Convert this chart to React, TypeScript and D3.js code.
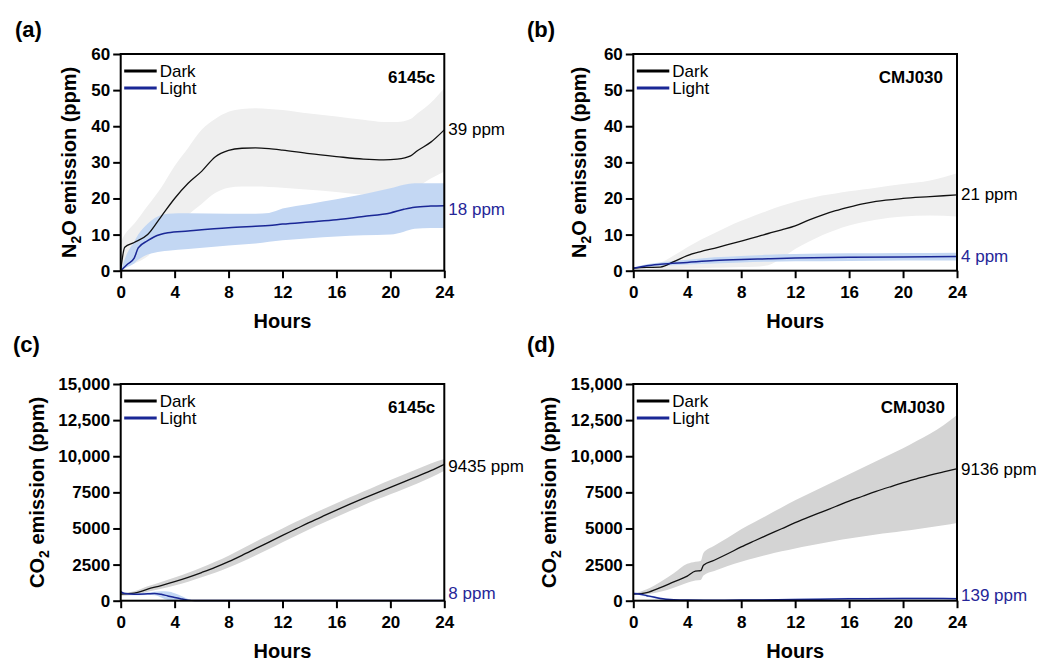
import React, { useEffect, useRef } from 'react'
import * as d3 from 'd3'

// Axis ticks
const hourTicks = [0, 4, 8, 12, 16, 20, 24]
const n2oTicks = [0, 10, 20, 30, 40, 50, 60]
const n2oTickLabels = ['0', '10', '20', '30', '40', '50', '60']
const co2Ticks = [0, 2500, 5000, 7500, 10000, 12500, 15000]
const co2TickLabels = ['0', '2500', '5000', '7500', '10,000', '12,500', '15,000']

// (a) N2O, 6145c
const darkHoursA = [0, 0.3, 1, 2, 3, 4, 5, 6, 7, 8, 9, 10, 11, 12, 14, 16, 18, 19.5, 20.5, 21.5, 22, 23, 24]
const darkMeanA = [0, 6.5, 7.8, 10, 15, 20, 24.2, 27.5, 31.5, 33.3, 33.9, 34, 33.8, 33.4, 32.4, 31.6, 30.9, 30.7, 30.9, 31.8, 33.2, 35.6, 39]
const darkHiA = [8, 10, 13, 18, 23, 29, 34, 39, 42, 44, 44.8, 45, 44.8, 44.5, 43.5, 42.7, 41.8, 41.2, 41.2, 42, 43.5, 46.5, 50.5]
const darkLoA = [0, 1, 2, 4, 8, 12, 15.5, 18.5, 21.5, 23, 23.3, 23.3, 23.2, 23, 22.4, 21.8, 21, 20.6, 20.6, 21.3, 23, 25.5, 27.5]
const lightHoursA = [0, 0.5, 1, 1.3, 2, 2.5, 3.5, 5, 8, 10, 11, 12, 14, 16, 18, 20, 21, 21.8, 23, 24]
const lightMeanA = [0, 1.8, 3.5, 6.3, 8.3, 9.4, 10.5, 11, 11.9, 12.3, 12.5, 12.9, 13.5, 14.1, 15, 16, 17, 17.6, 17.9, 18]
const lightHiA = [0, 5, 8, 10, 13, 14.5, 15.8, 15.9, 15.8, 15.8, 16, 17.2, 18.5, 19.8, 21.2, 22.8, 23.8, 24.2, 24.2, 24.2]
const lightLoA = [0, 1, 2, 3, 4.5, 5, 5.5, 6, 7, 7.5, 8, 8.4, 9, 9.5, 9.8, 10, 10.8, 11.6, 11.8, 11.8]

// (b) N2O, CMJ030
const darkHoursB = [0, 1, 2, 3, 4, 5, 6, 7, 8, 9, 10, 11, 12, 13, 14, 15, 16, 17, 18, 20, 22, 24]
const darkMeanB = [0.7, 0.9, 1.0, 2.5, 4.2, 5.3, 6.2, 7.2, 8.2, 9.2, 10.3, 11.3, 12.4, 14, 15.4, 16.6, 17.6, 18.5, 19.2, 20, 20.5, 21]
const darkHiB = [0.7, 1.2, 2.2, 4.2, 6.5, 8.6, 10.4, 12.2, 13.8, 15.3, 16.7, 18, 19.1, 20, 20.8, 21.4, 22, 22.5, 23, 24, 25, 27]
const darkLoB = [0.7, 0.6, 0.5, 0.5, 0.6, 0.7, 0.8, 0.9, 1, 1.1, 1.5, 3.5, 6, 8, 9.8, 11.3, 12.5, 13.4, 14.1, 15, 15.3, 15]
const lightHoursB = [0, 1, 2, 4, 6, 8, 10, 12, 16, 20, 24]
const lightMeanB = [0.7, 1.4, 1.8, 2.3, 2.8, 3.1, 3.3, 3.5, 3.7, 3.8, 3.9]
const lightHiB = [0.9, 1.8, 2.3, 3, 3.7, 4.1, 4.4, 4.6, 4.8, 4.9, 5]
const lightLoB = [0.5, 1, 1.3, 1.7, 2, 2.3, 2.5, 2.6, 2.7, 2.8, 2.8]

// (c) CO2, 6145c
const darkHoursC = [0, 1, 2, 3, 4, 5, 6, 7, 8, 9, 10, 11, 12, 13, 14, 15, 16, 17, 18, 19, 20, 21, 22, 23, 24]
const darkMeanC = [450, 520, 800, 1050, 1320, 1620, 1950, 2300, 2700, 3140, 3600, 4060, 4520, 4970, 5420, 5850, 6270, 6680, 7080, 7470, 7850, 8220, 8600, 9000, 9435]
const darkHiC = [550, 660, 1000, 1300, 1600, 1940, 2300, 2690, 3120, 3600, 4080, 4550, 5000, 5460, 5900, 6330, 6750, 7160, 7560, 7960, 8350, 8730, 9110, 9500, 9800]
const darkLoC = [350, 390, 620, 820, 1050, 1320, 1620, 1930, 2300, 2700, 3130, 3580, 4050, 4490, 4950, 5380, 5800, 6210, 6610, 7000, 7370, 7740, 8110, 8520, 9000]
const lightHoursC = [0, 0.3, 1, 2, 2.5, 3, 3.5, 4, 4.5, 5, 5.5, 8, 12, 16, 20, 24]
const lightMeanC = [620, 500, 450, 480, 500, 440, 330, 220, 120, 40, 10, 8, 8, 8, 8, 8]
const lightHiC = [680, 560, 520, 560, 620, 650, 640, 520, 320, 120, 20, 15, 15, 15, 15, 15]
const lightLoC = [560, 440, 380, 400, 380, 230, 50, 0, 0, 0, 0, 0, 0, 0, 0, 0]

// (d) CO2, CMJ030
const darkHoursD = [0, 1, 2, 3, 4, 4.6, 5, 5.2, 6, 7, 8, 9, 10, 11, 12, 13, 14, 15, 16, 17, 18, 19, 20, 21, 22, 23, 24]
const darkMeanD = [450, 560, 900, 1300, 1700, 2050, 2080, 2450, 2800, 3250, 3720, 4150, 4570, 4980, 5400, 5780, 6150, 6520, 6900, 7230, 7560, 7870, 8170, 8440, 8700, 8920, 9136]
const darkHiD = [500, 800, 1300, 1900, 2550, 2700, 2750, 3300, 3800, 4350, 4950, 5450, 5950, 6450, 6950, 7400, 7850, 8300, 8750, 9200, 9650, 10100, 10550, 11050, 11550, 12150, 12850]
const darkLoD = [420, 450, 620, 900, 1250, 1400, 1440, 1750, 2050, 2400, 2700, 2950, 3200, 3420, 3620, 3800, 3980, 4150, 4300, 4450, 4580, 4700, 4820, 4950, 5080, 5220, 5380]
const lightHoursD = [0, 0.5, 1, 1.5, 2, 3, 4, 6, 8, 12, 16, 20, 22, 24]
const lightMeanD = [500, 450, 350, 250, 160, 70, 40, 30, 40, 80, 130, 160, 150, 139]
const lightHiD = [560, 520, 430, 330, 230, 120, 80, 70, 90, 140, 200, 230, 220, 200]
const lightLoD = [440, 380, 270, 170, 90, 20, 0, 0, 0, 20, 60, 90, 80, 80]

const FONT = '"Liberation Sans", Arial, Helvetica, sans-serif'
const BLUE = '#1a2796'
const BLUE_TEXT = '#262698'
const BLUE_BAND = '#c3d7f3'

const panels = [
  {
    letter: '(a)', letterX: 15, letterY: 37,
    left: 120.7, right: 444.3, top: 54, bottom: 270.7,
    gas: 'N', yMax: 60, yTicks: n2oTicks, yLabels: n2oTickLabels, titleX: 76,
    strain: '6145c', strainInset: 9, band: '#efefef',
    dark: { h: darkHoursA, v: darkMeanA, hi: darkHiA, lo: darkLoA },
    light: { h: lightHoursA, v: lightMeanA, hi: lightHiA, lo: lightLoA },
    darkLabel: '39 ppm', lightLabel: '18 ppm', darkDy: 0, lightDy: 4
  },
  {
    letter: '(b)', letterX: 527, letterY: 37,
    left: 633.3, right: 957, top: 54, bottom: 270.7,
    gas: 'N', yMax: 60, yTicks: n2oTicks, yLabels: n2oTickLabels, titleX: 586,
    strain: 'CMJ030', strainInset: 14, band: '#efefef',
    dark: { h: darkHoursB, v: darkMeanB, hi: darkHiB, lo: darkLoB },
    light: { h: lightHoursB, v: lightMeanB, hi: lightHiB, lo: lightLoB },
    darkLabel: '21 ppm', lightLabel: '4 ppm', darkDy: 0, lightDy: 0
  },
  {
    letter: '(c)', letterX: 13, letterY: 352,
    left: 120.7, right: 444.3, top: 384, bottom: 600.7,
    gas: 'C', yMax: 15000, yTicks: co2Ticks, yLabels: co2TickLabels, titleX: 44,
    strain: '6145c', strainInset: 9, band: '#d4d4d4',
    dark: { h: darkHoursC, v: darkMeanC, hi: darkHiC, lo: darkLoC },
    light: { h: lightHoursC, v: lightMeanC, hi: lightHiC, lo: lightLoC },
    darkLabel: '9435 ppm', lightLabel: '8 ppm', darkDy: 2, lightDy: -7
  },
  {
    letter: '(d)', letterX: 527, letterY: 352,
    left: 633.3, right: 957, top: 384, bottom: 600.7,
    gas: 'C', yMax: 15000, yTicks: co2Ticks, yLabels: co2TickLabels, titleX: 556,
    strain: 'CMJ030', strainInset: 12, band: '#d4d4d4',
    dark: { h: darkHoursD, v: darkMeanD, hi: darkHiD, lo: darkLoD },
    light: { h: lightHoursD, v: lightMeanD, hi: lightHiD, lo: lightLoD },
    darkLabel: '9136 ppm', lightLabel: '139 ppm', darkDy: 1, lightDy: -3
  }
]

type Pt = { h: number; v: number; hi: number; lo: number }

const toPoints = (s: { h: number[]; v: number[]; hi: number[]; lo: number[] }): Pt[] =>
  s.h.map((h, i) => ({ h, v: s.v[i], hi: s.hi[i], lo: s.lo[i] }))

function drawPanel(svg: any, p: any) {
  const x = d3.scaleLinear().domain([0, 24]).range([p.left, p.right])
  const y = d3.scaleLinear().domain([0, p.yMax]).range([p.bottom, p.top])

  const area = d3
    .area<Pt>()
    .x(d => x(d.h))
    .y0(d => y(d.lo))
    .y1(d => y(d.hi))
    .curve(d3.curveMonotoneX)
  const line = d3
    .line<Pt>()
    .x(d => x(d.h))
    .y(d => y(d.v))
    .curve(d3.curveMonotoneX)

  const dark = toPoints(p.dark)
  const light = toPoints(p.light)

  const g = svg.append('g')

  // bands then lines
  g.append('path').attr('d', area(dark)).attr('fill', p.band)
  g.append('path').attr('d', area(light)).attr('fill', BLUE_BAND)
  g.append('path').attr('d', line(dark)).attr('fill', 'none').attr('stroke', '#111').attr('stroke-width', 1.3)
  g.append('path').attr('d', line(light)).attr('fill', 'none').attr('stroke', BLUE).attr('stroke-width', 1.5)

  // axes
  const yAxis = g
    .append('g')
    .attr('transform', `translate(${p.left},0)`)
    .call(
      d3
        .axisLeft(y)
        .tickValues(p.yTicks)
        .tickFormat((d: any, i: number) => p.yLabels[i])
        .tickSize(7.5)
        .tickPadding(3)
    )
  const xAxis = g
    .append('g')
    .attr('transform', `translate(0,${p.bottom})`)
    .call(d3.axisBottom(x).tickValues(hourTicks).tickSize(7.5).tickPadding(8))
  ;[yAxis, xAxis].forEach(a => {
    a.select('.domain').remove()
    a.attr('font-family', FONT).attr('font-size', 17).attr('font-weight', 'bold')
    a.selectAll('line').attr('stroke', '#000').attr('stroke-width', 2)
    a.selectAll('text').attr('fill', '#000')
  })

  g.append('rect')
    .attr('x', p.left)
    .attr('y', p.top)
    .attr('width', p.right - p.left)
    .attr('height', p.bottom - p.top)
    .attr('fill', 'none')
    .attr('stroke', '#000')
    .attr('stroke-width', 2)

  // axis titles
  g.append('text')
    .attr('x', (p.left + p.right) / 2)
    .attr('y', p.bottom + 57)
    .attr('text-anchor', 'middle')
    .attr('font-family', FONT)
    .attr('font-size', 20)
    .attr('font-weight', 'bold')
    .text('Hours')

  const yt = g
    .append('text')
    .attr('transform', `translate(${p.titleX},${(p.top + p.bottom) / 2}) rotate(-90)`)
    .attr('text-anchor', 'middle')
    .attr('font-family', FONT)
    .attr('font-size', 20)
    .attr('font-weight', 'bold')
  yt.append('tspan').text(p.gas === 'N' ? 'N' : 'CO')
  yt.append('tspan').attr('font-size', 14).attr('dy', 5).text('2')
  yt.append('tspan').attr('dy', -5).text(p.gas === 'N' ? 'O emission (ppm)' : ' emission (ppm)')

  // panel letter and strain
  g.append('text')
    .attr('x', p.letterX)
    .attr('y', p.letterY)
    .attr('font-family', FONT)
    .attr('font-size', 22)
    .attr('font-weight', 'bold')
    .text(p.letter)
  g.append('text')
    .attr('x', p.right - p.strainInset)
    .attr('y', p.top + 29)
    .attr('text-anchor', 'end')
    .attr('font-family', FONT)
    .attr('font-size', 17)
    .attr('font-weight', 'bold')
    .text(p.strain)

  // legend
  const legend = [
    { name: 'Dark', color: '#000', dy: 17 },
    { name: 'Light', color: BLUE, dy: 34 }
  ]
  legend.forEach(l => {
    g.append('line')
      .attr('x1', p.left + 3.5)
      .attr('x2', p.left + 36)
      .attr('y1', p.top + l.dy)
      .attr('y2', p.top + l.dy)
      .attr('stroke', l.color)
      .attr('stroke-width', 3)
    g.append('text')
      .attr('x', p.left + 39)
      .attr('y', p.top + l.dy)
      .attr('dominant-baseline', 'central')
      .attr('font-family', FONT)
      .attr('font-size', 17)
      .text(l.name)
  })

  // end labels
  const lastDark = dark[dark.length - 1]
  const lastLight = light[light.length - 1]
  g.append('text')
    .attr('x', p.right + 4)
    .attr('y', y(lastDark.v) + p.darkDy)
    .attr('dominant-baseline', 'central')
    .attr('font-family', FONT)
    .attr('font-size', 17)
    .attr('fill', '#000')
    .text(p.darkLabel)
  g.append('text')
    .attr('x', p.right + 4)
    .attr('y', y(lastLight.v) + p.lightDy)
    .attr('dominant-baseline', 'central')
    .attr('font-family', FONT)
    .attr('font-size', 17)
    .attr('fill', BLUE_TEXT)
    .text(p.lightLabel)
}

export default function App() {
  const ref = useRef<SVGSVGElement | null>(null)

  useEffect(() => {
    const svg = d3.select(ref.current)
    svg.selectAll('*').remove()
    panels.forEach(p => drawPanel(svg, p))
  }, [])

  return (
    <div style={{ position: 'absolute', left: 0, top: 0 }}>
      <svg ref={ref} width={1042} height={662} style={{ display: 'block', background: '#fff' }} />
    </div>
  )
}
